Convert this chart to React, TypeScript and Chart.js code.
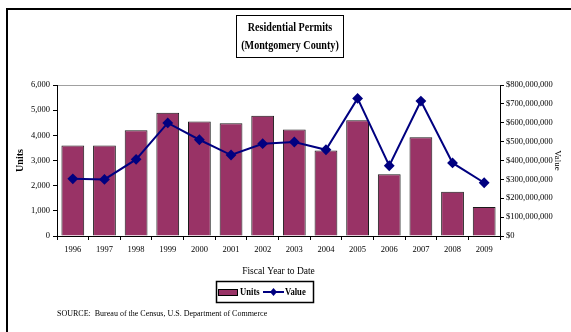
import React, { useEffect, useRef } from 'react';
import { Chart, registerables } from 'chart.js';

Chart.register(...registerables);

const FONT = "'Liberation Serif', 'Times New Roman', serif";

const years = ['1996', '1997', '1998', '1999', '2000', '2001', '2002', '2003', '2004', '2005', '2006', '2007', '2008', '2009'];
const units = [3600, 3600, 4200, 4900, 4550, 4480, 4780, 4230, 3400, 4600, 2450, 3920, 1760, 1150];
const values = [303e6, 300e6, 406e6, 599e6, 510e6, 429e6, 489e6, 498e6, 457e6, 729e6, 372e6, 715e6, 387e6, 282e6];
const titleLines = ['Residential Permits', '(Montgomery County)'];
const legendLabels = ['Units', 'Value'];
const sourceText = 'SOURCE:  Bureau of the Census, U.S. Department of Commerce';
const xTitle = 'Fiscal Year to Date';
const yTitle = 'Units';
const y2Title = 'Value';

const BAR_COLOR = '#993366';
const LINE_COLOR = '#000080';

function condensedText(ctx: any, text: string, x: number, y: number, sx: number) {
  ctx.save();
  ctx.translate(x, y);
  ctx.scale(sx, 1);
  ctx.fillText(text, 0, 0);
  ctx.restore();
}

const decor = {
  id: 'decor',
  beforeDraw(chart: any) {
    const ctx = chart.ctx;
    ctx.save();
    ctx.fillStyle = '#fff';
    ctx.fillRect(0, 0, chart.width, chart.height);
    ctx.restore();
  },
  afterDraw(chart: any) {
    const ctx = chart.ctx;
    ctx.save();
    // outer frame
    ctx.strokeStyle = '#000';
    ctx.lineWidth = 2;
    ctx.beginPath();
    ctx.moveTo(7, chart.height);
    ctx.lineTo(7, 9);
    ctx.lineTo(chart.width, 9);
    ctx.stroke();

    // title box
    ctx.lineWidth = 1;
    ctx.strokeRect(236.5, 15.5, 107, 42);
    ctx.fillStyle = '#000';
    ctx.font = 'bold 11.5px ' + FONT;
    ctx.textAlign = 'center';
    ctx.textBaseline = 'middle';
    condensedText(ctx, titleLines[0], 290, 28, 0.88);
    condensedText(ctx, titleLines[1], 290, 46, 0.88);

    // legend
    ctx.lineWidth = 1.5;
    ctx.strokeRect(216.5, 281.5, 97, 21);
    ctx.fillStyle = BAR_COLOR;
    ctx.fillRect(218, 289, 20, 7);
    ctx.lineWidth = 1;
    ctx.strokeStyle = '#000';
    ctx.strokeRect(218.5, 289.5, 19, 6);
    ctx.fillStyle = '#000';
    ctx.font = 'bold 10px ' + FONT;
    ctx.textAlign = 'left';
    condensedText(ctx, legendLabels[0], 240, 292.5, 0.86);
    ctx.strokeStyle = LINE_COLOR;
    ctx.lineWidth = 2;
    ctx.beginPath();
    ctx.moveTo(263, 292);
    ctx.lineTo(284, 292);
    ctx.stroke();
    ctx.fillStyle = LINE_COLOR;
    ctx.beginPath();
    ctx.moveTo(273.5, 288);
    ctx.lineTo(277, 292);
    ctx.lineTo(273.5, 296);
    ctx.lineTo(270, 292);
    ctx.closePath();
    ctx.fill();
    ctx.fillStyle = '#000';
    condensedText(ctx, legendLabels[1], 285, 292.5, 0.86);

    // source
    ctx.font = '8px ' + FONT;
    ctx.fillText(sourceText, 57, 314);
    ctx.restore();
  },
};

export default function App() {
  const ref = useRef<HTMLCanvasElement | null>(null);

  useEffect(() => {
    if (!ref.current) return;
    const chart = new Chart(ref.current, {
      type: 'bar',
      data: {
        labels: years,
        datasets: [
          {
            type: 'line',
            label: legendLabels[1],
            data: values,
            yAxisID: 'y2',
            borderColor: LINE_COLOR,
            backgroundColor: LINE_COLOR,
            borderWidth: 2,
            pointStyle: 'rectRot',
            pointRadius: 4,
            pointBackgroundColor: LINE_COLOR,
            pointBorderColor: LINE_COLOR,
            tension: 0,
            order: 0,
          } as any,
          {
            type: 'bar',
            label: legendLabels[0],
            data: units,
            yAxisID: 'y',
            backgroundColor: BAR_COLOR,
            borderColor: '#1a1a1a',
            borderWidth: 1,
            barPercentage: 0.72,
            categoryPercentage: 1,
            order: 1,
          } as any,
        ],
      },
      options: {
        responsive: false,
        animation: false,
        devicePixelRatio: 1,
        layout: { padding: { top: 85, left: 0, right: 0, bottom: 0 } },
        plugins: {
          legend: { display: false },
          tooltip: { enabled: false },
          title: { display: false },
        },
        scales: {
          x: {
            offset: true,
            grid: { drawOnChartArea: false, offset: true, tickLength: 4, color: '#000' },
            border: { color: '#000', width: 1 },
            ticks: { font: { family: FONT, size: 8.5 }, color: '#000', padding: 5, maxRotation: 0, autoSkip: false },
            title: {
              display: true,
              text: xTitle,
              font: { family: FONT, size: 9.5 },
              color: '#000',
              padding: { top: 0, bottom: 55 },
            },
            afterFit(scale: any) {
              scale.height = 96;
            },
          },
          y: {
            position: 'left',
            min: 0,
            max: 6000,
            ticks: { stepSize: 1000, font: { family: FONT, size: 8.5 }, color: '#000', padding: 3 },
            grid: {
              color: (c: any) => (c.tick && c.tick.value === 6000 ? '#a0a0a0' : 'rgba(0,0,0,0)'),
              tickColor: '#000',
              tickLength: 4,
            },
            border: { color: '#000', width: 1 },
            title: {
              display: true,
              text: yTitle,
              font: { family: FONT, size: 10, weight: 'bold' },
              color: '#000',
              padding: { top: 14, bottom: 0 },
            },
            afterFit(scale: any) {
              scale.width = 57;
            },
          },
          y2: {
            position: 'right',
            min: 0,
            max: 800000000,
            ticks: {
              stepSize: 100000000,
              font: { family: FONT, size: 8.5 },
              color: '#000',
              padding: 2,
              callback: (v: any) => '$' + Number(v).toLocaleString('en-US'),
            },
            grid: { drawOnChartArea: false, tickLength: 4, color: '#000' },
            border: { color: '#000', width: 1 },
            title: {
              display: true,
              text: y2Title,
              font: { family: FONT, size: 9 },
              color: '#000',
              padding: { top: 8, bottom: 0 },
            },
            afterFit(scale: any) {
              scale.width = 71;
            },
          },
        },
      },
      plugins: [decor],
    });
    return () => chart.destroy();
  }, []);

  return (
    <div style={{ position: 'fixed', left: 0, top: 0, width: 571, height: 332 }}>
      <canvas ref={ref} width={571} height={332} style={{ display: 'block' }} />
    </div>
  );
}
